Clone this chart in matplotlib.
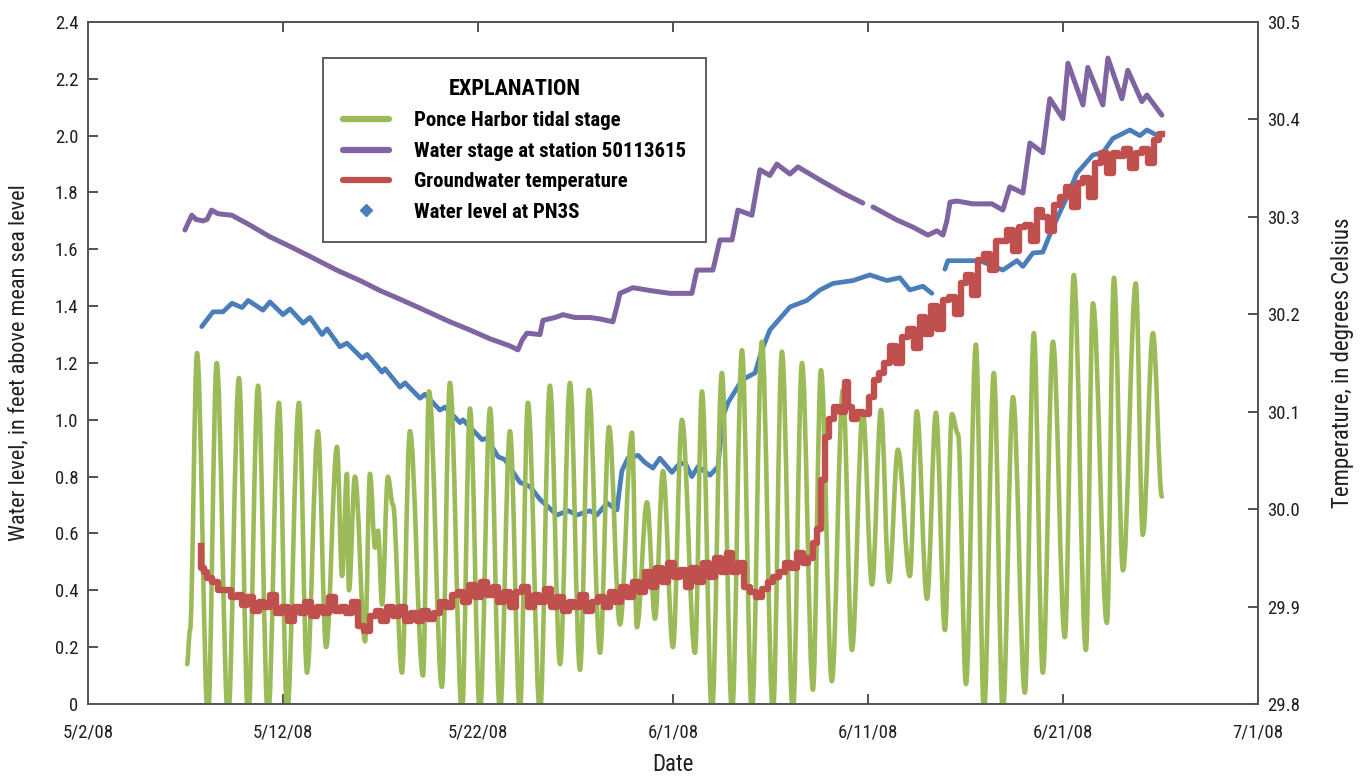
import pandas as pd
import numpy as np
import matplotlib
matplotlib.use('Agg')
import matplotlib.pyplot as plt
import matplotlib.dates as mdates
from matplotlib import font_manager
from matplotlib.lines import Line2D
from matplotlib.path import Path
from matplotlib.patches import PathPatch

# pick a narrow sans if one is around, otherwise Liberation Sans
names = {f.name for f in font_manager.fontManager.ttflist}
narrow = [n for n in ('Liberation Sans Narrow', 'Roboto Condensed', 'Open Sans Condensed',
                      'DejaVu Sans Condensed') if n in names]
plt.rcParams['font.family'] = narrow[:1] + ['Liberation Sans', 'DejaVu Sans']
if not narrow:
    plt.rcParams['font.stretch'] = 'condensed'

start = pd.Timestamp('2008-05-02')

# Ponce Harbor tidal stage (days after 5/2/08, feet)
tide_day = [5.08, 5.23, 5.59, 6.15, 6.60, 7.18, 7.74, 8.21, 8.72, 9.23, 9.79, 10.21,
            10.82, 11.23, 11.79, 12.21, 12.77, 13.03, 13.28, 13.38, 13.69, 14.21, 14.46,
            14.72, 14.87, 15.08, 15.38, 15.64, 16.10, 16.51, 17.18, 17.49, 18.15, 18.56,
            19.18, 19.59, 20.10, 20.62, 21.13, 21.64, 22.15, 22.56, 23.18, 23.69, 24.21,
            24.72, 25.23, 25.69, 26.26, 26.72, 27.28, 27.90, 28.15, 28.67, 29.08, 29.49,
            30.00, 30.46, 31.13, 31.49, 32.00, 32.51, 33.03, 33.54, 34.05, 34.56, 35.13,
            35.59, 36.15, 36.62, 37.18, 37.59, 38.15, 38.72, 39.18, 39.74, 40.21, 40.67,
            41.08, 41.54, 42.15, 42.51, 43.03, 43.49, 43.95, 44.31, 44.62, 45.03, 45.54,
            45.95, 46.46, 46.92, 47.44, 48.05, 48.51, 48.97, 49.49, 50.10, 50.56, 51.18,
            51.54, 52.26, 52.62, 53.08, 53.74, 54.10, 54.62, 55.08]
tide_ft = [0.14, 0.26, 1.235, -0.05, 1.20, -0.05, 1.147, -0.05, 1.12, -0.05, 1.06, -0.03,
           1.06, 0.11, 0.96, 0.20, 0.905, 0.45, 0.81, 0.40, 0.80, 0.22, 0.81,
           0.55, 0.61, 0.35, 0.80, 0.70, 0.11, 0.96, 0.10, 1.10, 0.06, 1.13,
           -0.03, 1.04, -0.03, 1.04, -0.03, 0.96, -0.03, 1.06, -0.03, 1.12, 0.14,
           1.13, 0.12, 1.105, 0.18, 0.975, 0.28, 0.955, 0.27, 0.71, 0.30, 0.82,
           0.20, 1.00, 0.18, 1.10, -0.03, 1.165, -0.03, 1.245, -0.03, 1.275, -0.03,
           1.24, -0.03, 1.20, 0.05, 1.175, 0.08, 1.105, 0.19, 1.03, 0.42, 1.035,
           0.43, 0.895, 0.45, 1.03, 0.37, 1.025, 0.26, 1.02, 0.95, 0.07, 1.265,
           -0.03, 1.165, -0.03, 1.08, 0.04, 1.305, 0.11, 1.275, 0.235, 1.51, 0.19,
           1.41, 0.285, 1.50, 0.47, 1.48, 0.595, 1.305, 0.73]

# Water stage at station 50113615 (NaN marks a gap in the record)
stage_day = [4.97, 5.32, 5.54, 5.90, 6.10, 6.34, 6.67, 7.37, 8.31, 9.33, 10.36, 11.38,
             12.75, 13.95, 14.97, 16.15, 17.28, 18.56, 19.59, 20.62, 21.64, 22.05, 22.26,
             22.51, 23.18, 23.33, 23.95, 24.36, 24.97, 25.74, 26.26, 26.92, 27.13, 27.28,
             27.95, 28.82, 29.85, 30.97, 31.23, 32.05, 32.41, 33.03, 33.33, 34.05, 34.46,
             34.97, 35.33, 36.00, 36.41, 37.54, 38.72, 39.74, 40.00, 40.26, 41.49, 42.31,
             43.08, 43.54, 43.85, 44.05, 44.21, 44.56, 45.38, 46.36, 46.92, 47.28, 47.95,
             48.31, 48.97, 49.33, 50.00, 50.26, 51.03, 51.28, 52.05, 52.31, 53.03, 53.33,
             54.05, 54.31, 55.08]
stage_ft = [1.668, 1.72, 1.705, 1.70, 1.705, 1.738, 1.725, 1.72, 1.685, 1.644, 1.61, 1.575,
            1.527, 1.49, 1.455, 1.42, 1.385, 1.345, 1.316, 1.285, 1.26, 1.246, 1.28,
            1.305, 1.30, 1.35, 1.36, 1.37, 1.36, 1.36, 1.355, 1.345, 1.40, 1.445,
            1.465, 1.455, 1.445, 1.445, 1.527, 1.527, 1.633, 1.633, 1.738, 1.72, 1.88,
            1.86, 1.90, 1.865, 1.89, 1.844, 1.798, 1.763, np.nan, 1.749, 1.703, 1.678,
            1.65, 1.665, 1.65, 1.70, 1.766, 1.77, 1.76, 1.76, 1.738, 1.82, 1.798,
            1.974, 1.94, 2.13, 2.06, 2.255, 2.108, 2.24, 2.108, 2.273, 2.13, 2.23,
            2.12, 2.143, 2.072]

# Groundwater temperature (deg C)
temp_day = [5.78, 5.85, 6.0, 6.2, 6.5, 6.8, 7.2, 7.5, 7.8, 8.0, 8.3, 8.6, 8.9, 9.2, 9.5,
            9.8, 10.1, 10.4, 10.7, 11.0, 11.3, 11.6, 11.9, 12.2, 12.5, 12.8, 13.1, 13.4,
            13.7, 14.0, 14.3, 14.6, 14.9, 15.2, 15.5, 15.8, 16.1, 16.4, 16.7, 17.0, 17.3,
            17.6, 17.9, 18.2, 18.5, 18.8, 19.1, 19.4, 19.7, 20.0, 20.3, 20.6, 20.9, 21.2,
            21.5, 21.8, 22.1, 22.4, 22.7, 23.0, 23.3, 23.6, 23.9, 24.2, 24.5, 24.8, 25.1,
            25.4, 25.7, 26.0, 26.3, 26.6, 26.9, 27.2, 27.5, 27.8, 28.1, 28.4, 28.7, 29.0,
            29.3, 29.6, 29.9, 30.2, 30.5, 30.8, 31.1, 31.4, 31.7, 32.0, 32.3, 32.6, 32.9,
            33.2, 33.5, 33.8, 34.1, 34.4, 34.7, 35.0, 35.3, 35.6, 35.9, 36.2, 36.5, 36.8,
            37.1, 37.3, 37.5, 37.7, 37.9, 38.1, 38.4, 38.7, 38.9, 39.1, 39.3, 39.6, 39.9,
            40.2, 40.4, 40.7, 41.0, 41.3, 41.6, 41.9, 42.2, 42.5, 42.8, 43.1, 43.4, 43.7,
            44.0, 44.3, 44.6, 44.9, 45.2, 45.5, 45.8, 46.1, 46.4, 46.7, 47.0, 47.3, 47.6,
            47.9, 48.2, 48.5, 48.8, 49.1, 49.4, 49.7, 50.0, 50.3, 50.6, 50.9, 51.2, 51.5,
            51.8, 52.1, 52.4, 52.7, 53.0, 53.3, 53.6, 53.9, 54.2, 54.5, 54.8, 55.08]
temp_c = [29.962, 29.940, 29.935, 29.929, 29.925, 29.917, 29.917, 29.910, 29.912, 29.902,
          29.910, 29.895, 29.905, 29.900, 29.912, 29.893, 29.900, 29.885, 29.900, 29.893,
          29.905, 29.890, 29.900, 29.893, 29.910, 29.895, 29.900, 29.893, 29.905, 29.880,
          29.875, 29.890, 29.895, 29.885, 29.900, 29.890, 29.900, 29.885, 29.893, 29.885,
          29.895, 29.887, 29.893, 29.905, 29.900, 29.912, 29.915, 29.905, 29.922, 29.910,
          29.925, 29.912, 29.920, 29.905, 29.915, 29.900, 29.915, 29.920, 29.900, 29.912,
          29.905, 29.918, 29.900, 29.910, 29.895, 29.905, 29.900, 29.912, 29.895, 29.905,
          29.910, 29.900, 29.915, 29.905, 29.920, 29.910, 29.925, 29.915, 29.935, 29.920,
          29.940, 29.925, 29.945, 29.930, 29.938, 29.920, 29.940, 29.925, 29.945, 29.930,
          29.950, 29.935, 29.955, 29.935, 29.945, 29.920, 29.915, 29.910, 29.918, 29.925,
          29.930, 29.935, 29.945, 29.940, 29.955, 29.945, 29.950, 29.965, 29.980, 30.030,
          30.074, 30.092, 30.105, 30.100, 30.130, 30.105, 30.092, 30.100, 30.098, 30.115,
          30.133, 30.140, 30.150, 30.167, 30.150, 30.177, 30.185, 30.165, 30.197, 30.180,
          30.208, 30.185, 30.215, 30.218, 30.200, 30.232, 30.240, 30.220, 30.256, 30.262,
          30.245, 30.275, 30.275, 30.287, 30.265, 30.290, 30.292, 30.275, 30.307, 30.300,
          30.285, 30.312, 30.320, 30.331, 30.310, 30.335, 30.340, 30.320, 30.355, 30.366,
          30.345, 30.366, 30.362, 30.370, 30.350, 30.366, 30.370, 30.355, 30.379, 30.385]

# Water level at PN3S
well_day = [5.83, 6.41, 6.92, 7.38, 7.90, 8.21, 8.97, 9.33, 10.00, 10.36, 11.03, 11.38,
            12.00, 12.26, 12.92, 13.28, 14.05, 14.31, 15.08, 15.23, 16.00, 16.26, 17.03,
            17.28, 18.05, 18.31, 19.08, 19.23, 20.21, 20.46, 21.03, 21.38, 22.15, 22.67,
            23.18, 24.05, 24.62, 25.08, 25.74, 26.10, 26.62, 27.13, 27.23, 27.38, 27.69,
            28.21, 28.56, 28.97, 29.33, 29.95, 30.26, 30.62, 30.97, 31.28, 31.90, 32.31,
            32.56, 32.82, 33.54, 34.21, 34.56, 34.97, 36.00, 36.87, 37.54, 38.21, 39.23,
            40.10, 40.97, 41.64, 42.15, 42.82, 43.28, 43.60, 43.95, 44.10, 44.87, 45.74,
            46.92, 47.64, 47.95, 48.46, 48.97, 49.49, 50.21, 50.72, 51.54, 52.05, 52.56,
            53.44, 53.95, 54.31, 55.00]
well_ft = [1.328, 1.38, 1.38, 1.41, 1.395, 1.42, 1.386, 1.415, 1.37, 1.39, 1.34, 1.36,
           1.30, 1.32, 1.257, 1.27, 1.217, 1.23, 1.168, 1.18, 1.115, 1.13, 1.076,
           1.09, 1.034, 1.045, 0.99, 1.00, 0.93, 0.935, 0.87, 0.86, 0.78, 0.765,
           0.72, 0.665, 0.68, 0.665, 0.68, 0.665, 0.707, 0.683, 0.74, 0.82, 0.865,
           0.875, 0.85, 0.83, 0.865, 0.815, 0.84, 0.85, 0.80, 0.835, 0.805, 0.835,
           1.01, 1.06, 1.14, 1.165, 1.245, 1.316, 1.397, 1.42, 1.457, 1.48, 1.49,
           1.51, 1.49, 1.50, 1.457, 1.47, 1.445, np.nan, 1.53, 1.56, 1.56, 1.56,
           1.527, 1.56, 1.54, 1.587, 1.59, 1.678, 1.784, 1.868, 1.932, 1.94, 1.99,
           2.02, 2.00, 2.02, 1.995]

def to_dates(days):
    return start + pd.to_timedelta(days, unit='D')

green = '#9BBB59'
purple = '#8064A2'
red = '#C0504D'
blue = '#4A7EBB'

fig = plt.figure(figsize=(13.65, 7.77), dpi=100)
ax = fig.add_axes([0.0645, 0.094, 0.857, 0.8777])
ax2 = ax.twinx()

ax.plot(to_dates(well_day), well_ft, color=blue, lw=3.4, solid_capstyle='round', zorder=2)
ax.plot(to_dates(stage_day), stage_ft, color=purple, lw=3.6, solid_capstyle='round', zorder=3)

# tide drawn as a smooth curve through the highs and lows
tx = mdates.date2num(to_dates(tide_day))
verts = [(tx[0], tide_ft[0])]
codes = [Path.MOVETO]
for i in range(len(tx) - 1):
    dx = tx[i + 1] - tx[i]
    verts += [(tx[i] + 0.36 * dx, tide_ft[i]), (tx[i + 1] - 0.36 * dx, tide_ft[i + 1]),
              (tx[i + 1], tide_ft[i + 1])]
    codes += [Path.CURVE4] * 3
ax.add_patch(PathPatch(Path(verts, codes), fill=False, edgecolor=green, lw=3.3,
                       joinstyle='round', capstyle='round', zorder=4))

ax2.plot(to_dates(temp_day), temp_c, color=red, lw=4.6, drawstyle='steps-mid', zorder=5)

ticks = pd.date_range('2008-05-02', periods=7, freq='10D')
ax.set_xlim(ticks[0], ticks[-1])
ax.set_xticks(ticks)
ax.set_xticklabels([f'{d.month}/{d.day}/{d:%y}' for d in ticks])

ax.set_ylim(0, 2.4)
yt = np.arange(0, 2.41, 0.2)
ax.set_yticks(yt)
ax.set_yticklabels(['0' if v < 1e-9 else f'{v:.1f}' for v in yt])
ax2.set_ylim(29.8, 30.5)
yt2 = np.arange(29.8, 30.51, 0.1)
ax2.set_yticks(yt2)
ax2.set_yticklabels([f'{v:.1f}' for v in yt2])

for a in (ax, ax2):
    for s in a.spines.values():
        s.set_color('#555555')
        s.set_linewidth(1.4)
    a.tick_params(direction='in', length=7, width=1.2, color='#333333',
                  labelsize=13.5, labelcolor='#231F20', pad=7)
ax.tick_params(axis='x', top=True, pad=14)

ax.set_xlabel('Date', fontsize=16.5, color='#231F20', labelpad=8)
ax.set_ylabel('Water level, in feet above mean sea level', fontsize=16, color='#231F20',
              labelpad=18)
ax2.set_ylabel('Temperature, in degrees Celsius', fontsize=16.5, color='#231F20', labelpad=22)

handles = [Line2D([], [], color=green, lw=4.5, solid_capstyle='round'),
           Line2D([], [], color=purple, lw=4.5, solid_capstyle='round'),
           Line2D([], [], color=red, lw=4.5, solid_capstyle='round'),
           Line2D([], [], color=blue, ls='none', marker='D', markersize=6.5)]
labels = ['Ponce Harbor tidal stage', 'Water stage at station 50113615',
          'Groundwater temperature', 'Water level at PN3S']
leg = ax2.legend(handles, labels, title='EXPLANATION', loc='upper left',
                 bbox_to_anchor=(0.2009, 0.947), frameon=True, fancybox=False,
                 prop={'size': 15, 'weight': 'bold'}, handlelength=2.2,
                 handletextpad=1.2, borderpad=0.95, labelspacing=0.55, borderaxespad=0)
leg.get_title().set_fontsize(16)
leg.get_title().set_fontweight('bold')
leg.get_frame().set_edgecolor('#333333')
leg.get_frame().set_linewidth(1.4)
leg.set_zorder(10)

plt.savefig('out.png', dpi=100)
plt.close()
